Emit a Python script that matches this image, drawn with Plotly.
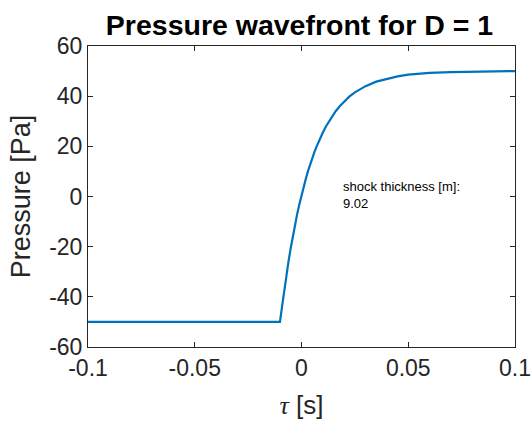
import plotly.graph_objects as go

# Data
tau = [-0.1, -0.05, -0.0101, -0.009, -0.008, -0.007, -0.006, -0.005, -0.004, -0.003,
       -0.002, -0.001, 0.0, 0.001, 0.002, 0.003, 0.004, 0.005, 0.006, 0.007,
       0.008, 0.009, 0.010, 0.0115, 0.013, 0.016, 0.018, 0.020, 0.0225, 0.025,
       0.0275, 0.030, 0.035, 0.040, 0.045, 0.050, 0.055, 0.060, 0.070, 0.085, 0.1]
pressure = [-50.0, -50.0, -50.0, -43.2, -36.9, -31.0, -25.4, -20.3, -15.5, -11.1,
            -6.9, -3.1, 0.5, 3.9, 7.0, 10.0, 12.7, 15.2, 17.6, 19.8,
            21.8, 23.8, 25.5, 28.0, 30.2, 34.0, 36.1, 37.9, 39.9, 41.5,
            42.9, 44.0, 45.8, 47.0, 47.9, 48.6, 49.0, 49.3, 49.6, 49.9, 50.0]

x_tickvals = [-0.1, -0.05, 0, 0.05, 0.1]
x_ticktext = ["-0.1", "-0.05", "0", "0.05", "0.1"]
y_tickvals = [-60, -40, -20, 0, 20, 40, 60]
y_ticktext = ["-60", "-40", "-20", "0", "20", "40", "60"]

title_text = "Pressure wavefront for D = 1"
note_text = "shock thickness [m]:<br>9.02"

FONT = "Liberation Sans, Arial, Helvetica, sans-serif"
AX = "#262626"

fig = go.Figure()
fig.add_trace(go.Scatter(x=tau, y=pressure, mode="lines",
                         line=dict(color="#0072BD", width=2.2),
                         showlegend=False, hoverinfo="skip"))

axis_common = dict(showgrid=False, zeroline=False, showline=True, linecolor=AX,
                   linewidth=1, mirror="ticks", ticks="inside", ticklen=5,
                   tickcolor=AX, tickwidth=1, automargin=False,
                   tickfont=dict(family=FONT, size=23, color=AX))

fig.update_xaxes(range=[-0.1, 0.1], tickvals=x_tickvals, ticktext=x_ticktext,
                 title=dict(text="<span style='font-family:Liberation Serif, serif'><i>τ</i></span> [s]",
                            font=dict(family=FONT, size=26, color=AX),
                            standoff=16),
                 **axis_common)
fig.update_yaxes(range=[-60, 60], tickvals=y_tickvals, ticktext=y_ticktext,
                 title=dict(text="Pressure [Pa]", font=dict(family=FONT, size=27, color=AX),
                            standoff=10),
                 **axis_common)

fig.add_annotation(x=0.0185, y=0.5, xref="x", yref="y", text=note_text,
                   showarrow=False, xanchor="left", yanchor="middle", align="left",
                   font=dict(family=FONT, size=13, color="#000000"))

fig.update_layout(
    width=531, height=424,
    margin=dict(l=88, r=16, t=46, b=77),
    paper_bgcolor="white", plot_bgcolor="white",
    title=dict(text="<b>" + title_text + "</b>", x=0.564, xanchor="center",
               y=1 - 25 / 424, yanchor="middle",
               font=dict(family=FONT, size=28.5, color="#000000")),
)

fig.write_html("out.html")
